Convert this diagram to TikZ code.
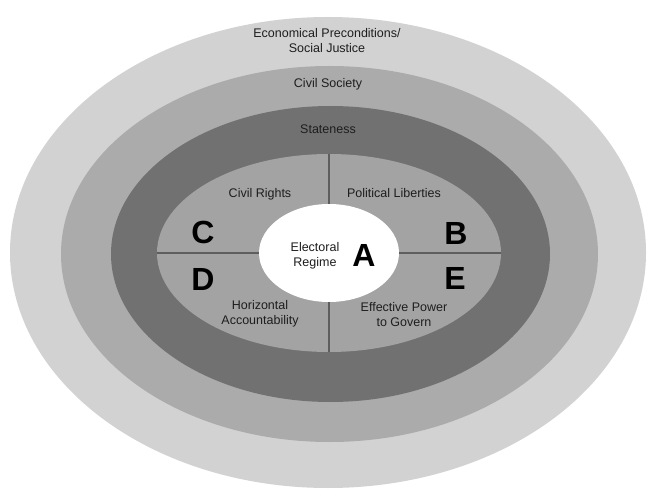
\documentclass[tikz,border=0pt]{standalone}
\usepackage{fontspec}
\setmainfont{Liberation Sans}
\usetikzlibrary{shapes.geometric}
\definecolor{ringA}{HTML}{D2D2D2}
\definecolor{ringB}{HTML}{ABABAB}
\definecolor{ringC}{HTML}{717171}
\definecolor{ringD}{HTML}{A3A3A3}
\definecolor{divline}{HTML}{5E5E5E}
\definecolor{txt}{HTML}{1E1E1E}
\tikzset{
  ring/.style={ellipse, draw=none, inner sep=0pt, outer sep=0pt},
  lbl/.style={font=\fontsize{12.5}{14.8}\selectfont, text=txt, align=center, inner sep=0pt},
  letter/.style={font=\fontsize{32}{32}\selectfont\bfseries, text=black, inner sep=0pt},
  divider/.style={draw=divline, line width=1.3pt}
}
\begin{document}
\begin{tikzpicture}[x=1pt,y=1pt]
\useasboundingbox (0,0) rectangle (653,496);
\fill[white] (0,0) rectangle (653,496);
\node[ring, fill=ringA, minimum width=636, minimum height=471] (outer) at (328,243.5) {};
\node[ring, fill=ringB, minimum width=537, minimum height=376] (civil) at (329.5,242) {};
\node[ring, fill=ringC, minimum width=439, minimum height=296] (state) at (330.5,242) {};
\node[ring, fill=ringD, minimum width=344, minimum height=198] (inner) at (329,243) {};
\node[ring, fill=white, minimum width=140, minimum height=98] (core) at (329,243) {};
\draw[divider] (inner.north) -- (core.north);
\draw[divider] (core.south) -- (inner.south);
\draw[divider] (inner.west) -- (core.west);
\draw[divider] (core.east) -- (inner.east);
\node[lbl] (econ) at (327,455.5) {Economical Preconditions/\\Social Justice};
\node[lbl] (civlbl) at (328,412) {Civil Society};
\node[lbl] (statelbl) at (328,367) {Stateness};
\node[lbl] (rights) at (260,302) {Civil Rights};
\node[lbl] (liberties) at (394,303) {Political Liberties};
\node[lbl] (horiz) at (260,182) {Horizontal\\Accountability};
\node[lbl] (power) at (404,181.5) {Effective Power\\to Govern};
\node[lbl] (regime) at (315,240.5) {Electoral\\Regime};
\node[letter] (la) at (364,241) {A};
\node[letter] (lb) at (456,263) {B};
\node[letter] (lc) at (203,264) {C};
\node[letter] (ld) at (203,217) {D};
\node[letter] (le) at (455,218) {E};
\end{tikzpicture}
\end{document}
